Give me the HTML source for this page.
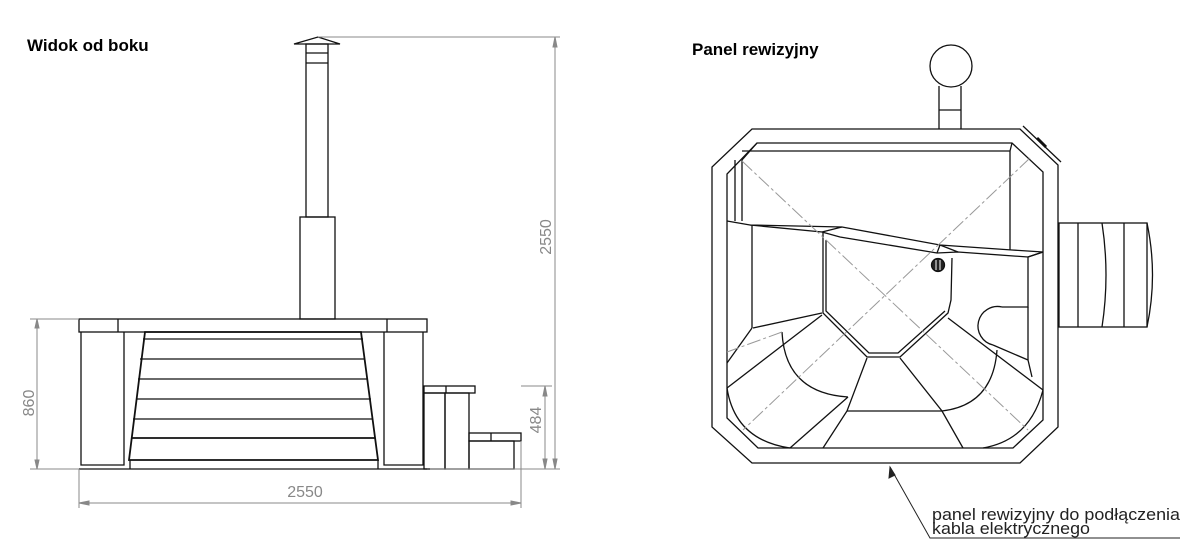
<!DOCTYPE html>
<html><head><meta charset="utf-8"><style>
html,body{margin:0;padding:0;background:#fff;width:1200px;height:559px;overflow:hidden}
svg{display:block}
.t{font-family:"Liberation Sans",sans-serif;font-weight:bold;font-size:17px;fill:#000}
.d{font-family:"Liberation Sans",sans-serif;font-size:16px;fill:#888}
</style></head><body>
<svg width="1200" height="559" viewBox="0 0 1200 559" xmlns="http://www.w3.org/2000/svg">
<text class="t" x="27" y="51">Widok od boku</text>
<text class="t" x="692" y="55">Panel rewizyjny</text>

<!-- LEFT: side view -->
<g fill="none" stroke="#111" stroke-width="1.3">
 <polygon points="294,44 318,37 340,44" />
 <rect x="306" y="44" width="22" height="173"/>
 <line x1="306" y1="53" x2="328" y2="53"/><line x1="306" y1="63" x2="328" y2="63"/>
 <rect x="300" y="217" width="35" height="102"/>
 <rect x="79" y="319" width="348" height="13"/>
 <line x1="118" y1="319" x2="118" y2="332"/><line x1="387" y1="319" x2="387" y2="332"/>
 <polyline points="81,332 81,465 124,465 124,332"/>
 <polyline points="384,332 384,465 423,465 423,332"/>
 <line x1="79" y1="469" x2="427" y2="469"/>
 <polygon points="145,332 361,332 378,460 129,460" stroke-width="1.8"/>
 <line x1="143" y1="339" x2="363" y2="339"/>
 <line x1="140" y1="359" x2="365" y2="359"/>
 <line x1="138" y1="379" x2="368" y2="379"/>
 <line x1="136" y1="399" x2="371" y2="399"/>
 <line x1="133" y1="419" x2="373" y2="419"/>
 <line x1="131" y1="438" x2="375" y2="438" stroke-width="1.8"/>
 <line x1="130" y1="460" x2="130" y2="469"/><line x1="378" y1="460" x2="378" y2="469"/>
 <rect x="424" y="386" width="51" height="7"/>
 <line x1="446" y1="386" x2="446" y2="393"/>
 <rect x="424" y="393" width="21" height="76"/>
 <rect x="445" y="393" width="24" height="76"/>
 <rect x="469" y="433" width="52" height="8"/>
 <line x1="491" y1="433" x2="491" y2="441"/>
 <rect x="469" y="441" width="45" height="28"/>
</g>
<g stroke="#888" stroke-width="1" fill="#888">
 <line x1="30" y1="319" x2="79" y2="319"/><line x1="30" y1="469" x2="79" y2="469"/>
 <line x1="37" y1="319" x2="37" y2="469"/>
 <polygon points="37,319 35,328 39,328"/><polygon points="37,469 35,460 39,460"/>
 <line x1="79" y1="469" x2="79" y2="508"/><line x1="521" y1="441" x2="521" y2="508"/>
 <line x1="79" y1="503" x2="521" y2="503"/>
 <polygon points="79,503 89,501 89,505"/><polygon points="521,503 511,501 511,505"/>
 <line x1="318" y1="37" x2="560" y2="37"/><line x1="430" y1="469" x2="560" y2="469"/>
 <line x1="521" y1="386" x2="552" y2="386"/>
 <line x1="555" y1="37" x2="555" y2="469"/>
 <polygon points="555,37 553,47 557,47"/><polygon points="555,469 553,459 557,459"/>
 <line x1="545" y1="386" x2="545" y2="469"/>
 <polygon points="545,386 543,396 547,396"/><polygon points="545,469 543,459 547,459"/>
</g>
<text class="d" transform="translate(34,403) rotate(-90)" text-anchor="middle">860</text>
<text class="d" x="305" y="497" text-anchor="middle">2550</text>
<text class="d" transform="translate(551,237) rotate(-90)" text-anchor="middle">2550</text>
<text class="d" transform="translate(541,420) rotate(-90)" text-anchor="middle">484</text>

<!-- RIGHT: top view -->
<g fill="none" stroke="#111" stroke-width="1.3">
 <circle cx="951" cy="66" r="21"/>
 <line x1="939" y1="86" x2="939" y2="129"/><line x1="961" y1="86" x2="961" y2="129"/>
 <line x1="939" y1="110" x2="961" y2="110"/>
 <polygon points="752,129 1020,129 1058,165 1058,427 1020,463 752,463 712,427 712,167"/>
 <polygon points="757,143 1012,143 1043,172 1043,420 1013,448 758,448 727,418 727,174"/>
 <line x1="1023" y1="126" x2="1061" y2="162" />
 <line x1="1037" y1="138" x2="1046" y2="147" stroke-width="3"/>
 <rect x="1059" y="223" width="88" height="104"/>
 <line x1="1078" y1="223" x2="1078" y2="327"/>
 <path d="M1102,223 Q1110,275 1102,327"/>
 <line x1="1124" y1="223" x2="1124" y2="327"/>
 <path d="M1147,223 Q1158,275 1147,327"/>
 <polyline points="742,160 742,221"/><polyline points="735,160 735,221"/>
 <line x1="742" y1="151" x2="1010" y2="151"/>
 <line x1="757" y1="143" x2="742" y2="160"/>
 <line x1="1012" y1="143" x2="1010" y2="151"/>
 <line x1="1010" y1="151" x2="1010" y2="250"/>
 <polyline points="727,221 750,225 842,227 940,245 1012,250 1043,252"/>
 <polyline points="750,225 822,232 840,237 937,253 958,252 1028,257 1043,252"/>
 <line x1="822" y1="232" x2="842" y2="227"/><line x1="937" y1="253" x2="940" y2="245"/><line x1="958" y1="252" x2="940" y2="245"/>
 <line x1="752" y1="225" x2="752" y2="328"/>
 <line x1="753" y1="328" x2="822" y2="313"/>
 <line x1="752" y1="328" x2="727" y2="363"/>
 <polyline points="823,232 823,313 867,357 900,357 948,313 951,300 952,258"/>
 <polyline points="826,240 826,311 869,353 898,353 945,311"/>
 <polyline points="867,358 847,411 823,448"/>
 <polyline points="900,358 942,411 963,448"/>
 <line x1="847" y1="411" x2="942" y2="411"/>
 <line x1="822" y1="315" x2="727" y2="388"/>
 <path d="M782,332 Q785,393 848,397"/>
 <path d="M727,388 Q735,440 790,448"/>
 <line x1="848" y1="397" x2="790" y2="448"/>
 <line x1="948" y1="318" x2="1043" y2="390"/>
 <path d="M997,350 Q993,405 942,411"/>
 <path d="M1043,390 Q1030,440 983,448"/>
 <polyline points="1043,252 1028,257 1028,307 1002,307"/>
 <path d="M1002,307 A19,19 0 0 0 993,345"/>
 <polyline points="993,345 1028,360 1032,377"/>
 <line x1="1028" y1="307" x2="1028" y2="360"/>
 <circle cx="938" cy="265" r="6.5" fill="#222"/>
</g>
<g stroke="#fff" stroke-width="1"><line x1="936" y1="260" x2="936" y2="270"/><line x1="940" y1="260" x2="940" y2="270"/></g>
<g stroke="#999" stroke-width="1" stroke-dasharray="14,3,3,3" fill="none">
 <line x1="742" y1="161" x2="1028" y2="430"/>
 <line x1="1030" y1="158" x2="743" y2="430"/>
 <line x1="782" y1="332" x2="727" y2="352"/>
</g>
<g stroke="#222" stroke-width="1" fill="#222">
 <polyline points="890,467 930,538 1180,538" fill="none"/>
 <polygon points="890,467 889,478 895,475"/>
</g>
<text x="932" y="520" style="font-family:'Liberation Sans',sans-serif;font-size:17px;fill:#222" textLength="248" lengthAdjust="spacingAndGlyphs">panel rewizyjny do podłączenia</text>
<text x="932" y="534" style="font-family:'Liberation Sans',sans-serif;font-size:17px;fill:#222" textLength="158" lengthAdjust="spacingAndGlyphs">kabla elektrycznego</text>
</svg>
</body></html>
